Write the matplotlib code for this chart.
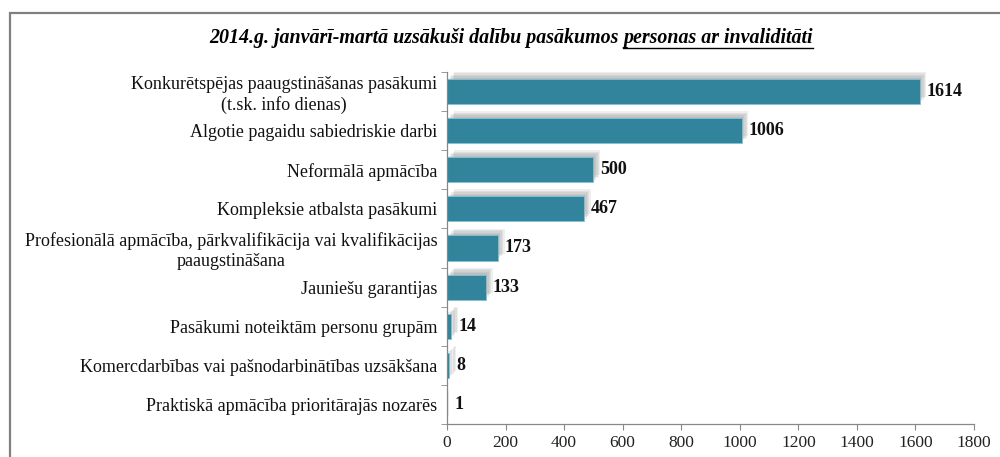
import numpy as np
import matplotlib
matplotlib.use("Agg")
import matplotlib.pyplot as plt
import matplotlib.patches as mpatches
import matplotlib.patheffects as pe

categories = [
    "Konkurētspējas paaugstināšanas pasākumi\n(t.sk. info dienas)",
    "Algotie pagaidu sabiedriskie darbi",
    "Neformālā apmācība",
    "Kompleksie atbalsta pasākumi",
    "Profesionālā apmācība, pārkvalifikācija vai kvalifikācijas\npaaugstināšana",
    "Jauniešu garantijas",
    "Pasākumi noteiktām personu grupām",
    "Komercdarbības vai pašnodarbinātības uzsākšana",
    "Praktiskā apmācība prioritārajās nozarēs",
]
values = [1614, 1006, 500, 467, 173, 133, 14, 8, 1]
xticks = [0, 200, 400, 600, 800, 1000, 1200, 1400, 1600, 1800]

title_plain = "2014.g. janvārī-martā uzsākuši dalību pasākumos "
title_under = "personas ar invaliditāti"

plt.rcParams["font.family"] = ["Liberation Serif", "DejaVu Serif"]

fig = plt.figure(figsize=(10, 4.57), dpi=100)
ax = fig.add_axes([0.447, 0.0722, 0.527, 0.7703])

y = np.arange(len(categories))
# soft blurred shadow, built from a few faint offset copies
shadow = [pe.SimplePatchShadow(offset=(d, d), shadow_rgbFace="#808080", alpha=0.13)
          for d in (1, 2, 3, 4, 5)] + [pe.Normal()]
bars = ax.barh(y, values, height=0.64, color="#31849b", edgecolor="#7fc4d6", linewidth=0.6)
for b in bars:
    b.set_path_effects(shadow)

for yi, v in zip(y, values):
    ax.text(v + 24, yi, str(v), va="center", ha="left", fontsize=13, fontweight="bold", color="#111111")

ax.set_ylim(len(categories) - 0.5, -0.5)
ax.set_xlim(0, 1800)
ax.set_xticks(xticks)
ax.set_xticklabels([str(t) for t in xticks], fontsize=12.5, color="#222222")
ax.set_yticks(y)
ax.set_yticklabels(categories, fontsize=13, multialignment="center", color="#111111")
ax.set_yticks(np.arange(len(categories) + 1) - 0.5, minor=True)
ax.tick_params(axis="y", which="major", length=0, pad=7)
ax.tick_params(axis="y", which="minor", length=4, color="#888888", direction="out")
ax.tick_params(axis="x", length=4, color="#888888", pad=4)
for s in ["top", "right"]:
    ax.spines[s].set_visible(False)
for s in ["left", "bottom"]:
    ax.spines[s].set_color("#888888")
    ax.spines[s].set_linewidth(0.9)

# outer chart frame
frame = mpatches.Rectangle((0.010, -0.05), 1.1, 1.05 - 13 / 457, transform=fig.transFigure,
                           fill=False, edgecolor="#808080", linewidth=1.6, clip_on=False)
fig.patches.append(frame)

# title with underlined part
fig.canvas.draw()
r = fig.canvas.get_renderer()
t1 = fig.text(0, 1 - 38 / 457, title_plain, fontsize=14.4, fontweight="bold", style="italic",
              va="center", ha="left")
t2 = fig.text(0, 1 - 38 / 457, title_under, fontsize=14.4, fontweight="bold", style="italic",
              va="center", ha="left")
w1 = t1.get_window_extent(renderer=r).width
w2 = t2.get_window_extent(renderer=r).width
x0 = (511 - (w1 + w2) / 2) / 1000
t1.set_x(x0)
t2.set_x(x0 + w1 / 1000)
ybase = 1 - 48 / 457
fig.add_artist(plt.Line2D([x0 + w1 / 1000, x0 + (w1 + w2) / 1000], [ybase, ybase],
                          transform=fig.transFigure, color="black", linewidth=1.0))

fig.savefig("out.png", dpi=100)
